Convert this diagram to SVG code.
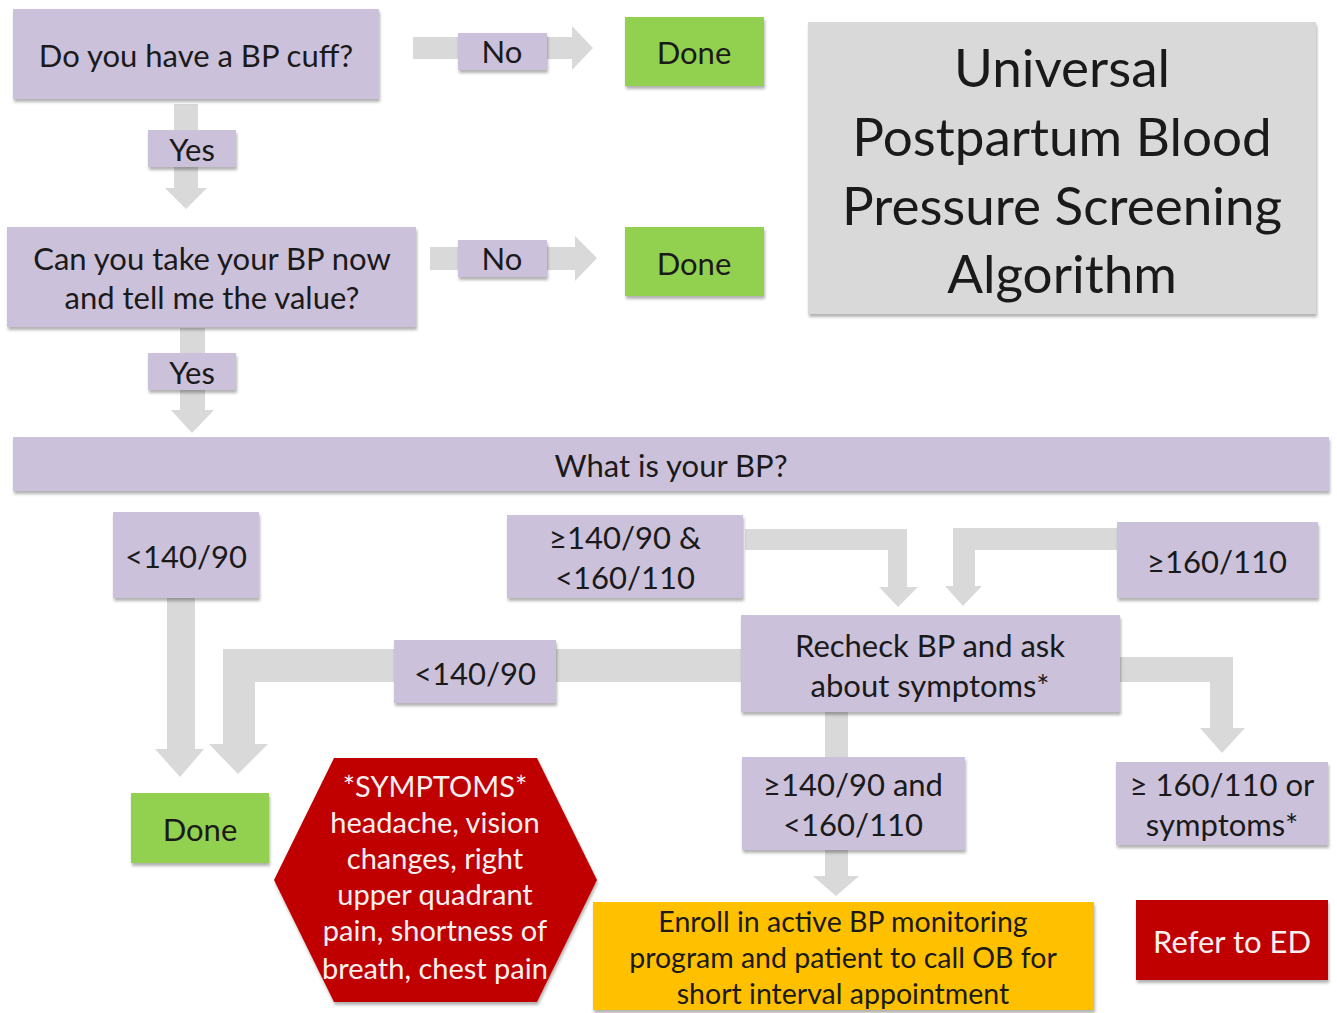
<svg xmlns="http://www.w3.org/2000/svg" width="1337" height="1013" viewBox="0 0 1337 1013">
<defs>
<filter id="sh" x="-10%" y="-10%" width="125%" height="130%">
<feDropShadow dx="1" dy="3" stdDeviation="1.5" flood-color="#000" flood-opacity="0.3"/>
</filter>
<style>
.lav{fill:#CCC1DA;filter:url(#sh)}
.grn{fill:#92D050;filter:url(#sh)}
.red{fill:#C00000;filter:url(#sh)}
.org{fill:#FFC000;filter:url(#sh)}
.gry{fill:#D9D9D9;filter:url(#sh)}
.arr{fill:#D9D9D9}
text{font-family:Lato,"Open Sans","Liberation Sans",sans-serif;font-size:31px;fill:#1a1a1a;text-anchor:middle}
.w{fill:#F5F0F0}
.hex{font-size:29px}
.title{font-size:53px}
.sm{font-size:28.5px}
</style>
</defs>
<rect width="1337" height="1013" fill="#fff"/>

<g id="connectors">
<rect class="arr" x="413" y="37" width="160" height="22"/>
<polygon class="arr" points="572,26 593,48 572,70"/>
<rect class="arr" x="430" y="247" width="146" height="23"/>
<polygon class="arr" points="575,236 597,258 575,281"/>
<rect class="arr" x="174" y="104" width="24" height="86"/>
<polygon class="arr" points="165,188 207,188 186,209"/>
<rect class="arr" x="180" y="328" width="25" height="84"/>
<polygon class="arr" points="171,410 214,410 192,433"/>
<rect class="arr" x="167" y="598" width="28" height="153"/>
<polygon class="arr" points="155,749 204,749 180,777"/>
<path class="arr" d="M745,529 H907 V587 H918 L898,607 L879,587 H888 V550 H745 Z"/>
<path class="arr" d="M1118,528 H953 V586 H945 L963,606 L982,586 H975 V550 H1118 Z"/>
<path class="arr" d="M742,649 H223 V744 H209 L238,774 L268,744 H255 V682 H742 Z"/>
<path class="arr" d="M1118,657 H1233 V728 H1245 L1222,753 L1200,728 H1210 V682 H1118 Z"/>
<rect class="arr" x="825" y="710" width="23" height="170"/>
<polygon class="arr" points="813,876 859,876 836,896"/>
</g>

<g id="label-no1"><rect class="lav" x="458" y="33" width="89" height="37"/><text x="502" y="63">No</text></g>
<g id="label-no2"><rect class="lav" x="458" y="240" width="89" height="37"/><text x="502" y="270">No</text></g>
<g id="label-yes1"><rect class="lav" x="148" y="130" width="88" height="37"/><text x="192" y="161">Yes</text></g>
<g id="label-yes2"><rect class="lav" x="148" y="353" width="88" height="37"/><text x="192" y="384">Yes</text></g>

<g id="q1"><rect class="lav" x="13" y="9" width="366" height="90"/><text x="196" y="67">Do you have a BP cuff?</text></g>
<g id="done1"><rect class="grn" x="625" y="17" width="139" height="69"/><text x="694" y="64">Done</text></g>
<g id="title"><rect class="gry" x="808" y="22" width="508" height="292"/>
<text class="title" x="1062" y="87">Universal</text>
<text class="title" x="1062" y="156">Postpartum Blood</text>
<text class="title" x="1062" y="225">Pressure Screening</text>
<text class="title" x="1062" y="293">Algorithm</text></g>
<g id="q2"><rect class="lav" x="7" y="227" width="409" height="100"/><text x="212" y="270">Can you take your BP now</text><text x="212" y="309">and tell me the value?</text></g>
<g id="done2"><rect class="grn" x="625" y="227" width="139" height="69"/><text x="694" y="275">Done</text></g>
<g id="q3"><rect class="lav" x="13" y="437" width="1316" height="54"/><text x="671" y="477">What is your BP?</text></g>

<g id="bp-low"><rect class="lav" x="113" y="512" width="146" height="86"/><text x="186" y="568">&lt;140/90</text></g>
<g id="bp-mid"><rect class="lav" x="507" y="515" width="236" height="83"/><text x="625" y="549">≥140/90 &amp;</text><text x="625" y="589">&lt;160/110</text></g>
<g id="bp-high"><rect class="lav" x="1117" y="522" width="201" height="76"/><text x="1217" y="573">≥160/110</text></g>
<g id="recheck"><rect class="lav" x="741" y="615" width="379" height="97"/><text x="930" y="657">Recheck BP and ask</text><text x="930" y="697">about symptoms*</text></g>
<g id="label-low2"><rect class="lav" x="394" y="640" width="162" height="63"/><text x="475" y="685">&lt;140/90</text></g>
<g id="done3"><rect class="grn" x="131" y="793" width="138" height="70"/><text x="200" y="841">Done</text></g>
<g id="symptoms"><polygon class="red" points="334,758 537,758 597,880 537,1002 334,1002 274,880"/>
<text class="w hex" x="435" y="797">*SYMPTOMS*</text>
<text class="w hex" x="435" y="833">headache, vision</text>
<text class="w hex" x="435" y="869">changes, right</text>
<text class="w hex" x="435" y="905">upper quadrant</text>
<text class="w hex" x="435" y="941">pain, shortness of</text>
<text class="w hex" x="435" y="979">breath, chest pain</text></g>
<g id="bp-mid2"><rect class="lav" x="742" y="757" width="223" height="93"/><text x="853" y="796">≥140/90 and</text><text x="853" y="836">&lt;160/110</text></g>
<g id="bp-high2"><rect class="lav" x="1116" y="762" width="212" height="83"/><text x="1222" y="796">≥ 160/110 or</text><text x="1222" y="836">symptoms*</text></g>
<g id="enroll"><rect class="org" x="593" y="902" width="501" height="108"/>
<text class="sm" x="843" y="932">Enroll in active BP monitoring</text>
<text class="sm" x="843" y="968">program and patient to call OB for</text>
<text class="sm" x="843" y="1004">short interval appointment</text></g>
<g id="refer"><rect class="red" x="1136" y="900" width="192" height="80"/><text class="w" x="1232" y="953">Refer to ED</text></g>
</svg>
